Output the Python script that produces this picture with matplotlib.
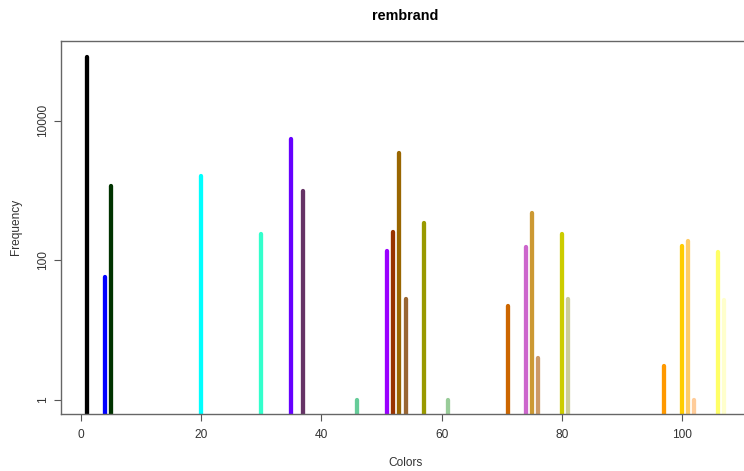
import matplotlib
matplotlib.use("Agg")
import matplotlib.pyplot as plt

# color index and frequency (log scale)
idx = [1, 4, 5, 20, 30, 35, 37, 46, 51, 52, 53, 54, 57, 61,
       71, 74, 75, 76, 80, 81, 97, 100, 101, 102, 106, 107]
freq = [84000, 57, 1170, 1630, 240, 5580, 990, 1, 136, 254, 3510, 28, 342, 1,
        22, 154, 484, 4, 240, 28, 3, 158, 190, 1, 132, 27]
cols = ["#000000", "#0000FF", "#003300", "#00FFFF", "#33FFCC", "#6600FF",
        "#663366", "#66CC99", "#9900FF", "#993300", "#996600", "#996633",
        "#999900", "#99CC99", "#CC6600", "#CC66CC", "#CC9933", "#CC9966",
        "#CCCC00", "#CCCC99", "#FF9900", "#FFCC00", "#FFCC66", "#FFCC99",
        "#FFFF66", "#FFFFCC"]

plt.rcParams["font.family"] = ["Liberation Sans", "DejaVu Sans"]

fig = plt.figure(figsize=(7.44, 4.71), dpi=100)
ax = fig.add_axes([61 / 744, 57.5 / 471, 689 / 744, 372.5 / 471])

for x, y, c in zip(idx, freq, cols):
    ax.plot([x, x], [1e-3, y], color=c, lw=3.1, solid_capstyle="round")

ax.set_yscale("log")
ax.set_xlim(-3.24, 111.24)
ax.set_ylim(10 ** -0.198, 10 ** 5.147)

ax.set_xticks([0, 20, 40, 60, 80, 100])
ax.set_yticks([1, 100, 10000])
ax.set_yticklabels(["1", "100", "10000"], rotation=90, va="center")
ax.minorticks_off()
ax.tick_params(direction="out", length=5, width=0.8, color="#555555",
               labelcolor="#333333", labelsize=8.6)
ax.tick_params(axis="x", pad=6)
ax.tick_params(axis="y", pad=3.5)
for s in ax.spines.values():
    s.set_color("#666666")
    s.set_linewidth(1.0)

ax.set_xlabel("Colors", fontsize=8.6, color="#333333", labelpad=12)
ax.set_ylabel("Frequency", fontsize=8.6, color="#333333", labelpad=11)
ax.set_title("rembrand", fontsize=10.4, fontweight="bold", pad=15)

fig.savefig("out.png", dpi=100)
